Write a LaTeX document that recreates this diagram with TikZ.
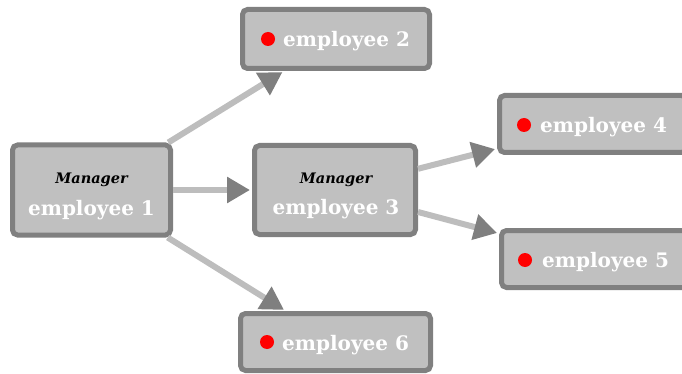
\documentclass[tikz,border=0pt]{standalone}
\usepackage{fontspec}
\setmainfont{DejaVu Serif}
\usetikzlibrary{arrows.meta}
\definecolor{boxfill}{HTML}{C0C0C0}
\definecolor{boxline}{HTML}{808080}
\definecolor{linkgray}{HTML}{BDBDBD}
\definecolor{tipgray}{HTML}{7F7F7F}
\definecolor{dotred}{HTML}{FF0000}
\begin{document}
\begin{tikzpicture}[x=1pt,y=-1pt,
  personbox/.style={draw=boxline, fill=boxfill, line width=5pt, rounded corners=5pt,
    inner sep=0pt, outer sep=2.5pt},
  empname/.style={text=white, font=\fontsize{20}{20}\selectfont\bfseries, inner sep=0pt},
  rolelabel/.style={text=black, font=\fontsize{14.5}{15}\selectfont\bfseries\itshape, inner sep=0pt},
  statusdot/.style={fill=dotred},
  link/.style={draw=linkgray, line width=6pt, shorten >=2pt,
    -{Triangle[length=23pt, width=25pt, color=tipgray]}}
]
\useasboundingbox (0,0) rectangle (682,374);
\clip (0,0) rectangle (682,374);

% boxes
\node[personbox, minimum width=158pt, minimum height=90pt] (e1) at (91.5,190) {};
\node[personbox, minimum width=187pt, minimum height=59pt] (e2) at (336,39) {};
\node[personbox, minimum width=161pt, minimum height=89pt] (e3) at (335,190) {};
\node[personbox, minimum width=187pt, minimum height=57pt] (e4) at (593,124) {};
\node[personbox, minimum width=187pt, minimum height=57pt] (e5) at (595,259) {};
\node[personbox, minimum width=190pt, minimum height=57pt] (e6) at (335.5,342) {};

% managers
\node[rolelabel, anchor=base] (r1) at (91.5,183) {Manager};
\node[empname, anchor=base] (n1) at (91.5,215) {employee 1};
\node[rolelabel, anchor=base] (r3) at (336,183) {Manager};
\node[empname, anchor=base] (n3) at (336,214) {employee 3};

% employees with status dot
\fill[statusdot] (268,39) circle (7);
\node[empname, anchor=base west] (n2) at (283,47) {employee 2};
\fill[statusdot] (524,125) circle (7);
\node[empname, anchor=base west] (n4) at (540,133) {employee 4};
\fill[statusdot] (525,260) circle (7);
\node[empname, anchor=base west] (n5) at (542,267) {employee 5};
\fill[statusdot] (267,342) circle (7);
\node[empname, anchor=base west] (n6) at (282,350) {employee 6};

% reporting lines
\draw[link] (e1) -- (e2);
\draw[link] (e1) -- (e3);
\draw[link] (e1) -- (e6);
\draw[link] (e3) -- (e4);
\draw[link] (e3) -- (e5);
\end{tikzpicture}
\end{document}
